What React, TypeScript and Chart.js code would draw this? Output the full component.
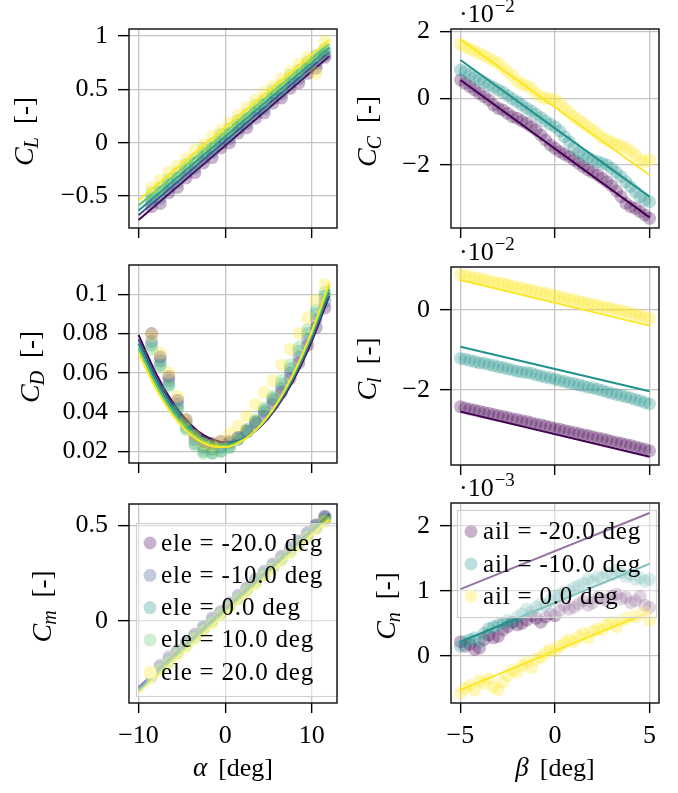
import React, { useEffect, useRef } from "react";
import { Chart, registerables } from "chart.js";
Chart.register(...registerables);

const SERIF = '"Liberation Serif", "Times New Roman", serif';
const FS = 25;
const TICK_FS = 26;

// ---------- data ----------
const VIRIDIS5 = ["#440154", "#3b528b", "#21918c", "#5ec962", "#fde725"];
const VIRIDIS3 = ["#440154", "#21918c", "#fde725"];
const ELE_LABELS = ["ele = -20.0 deg", "ele = -10.0 deg", "ele = 0.0 deg", "ele = 10.0 deg", "ele = 20.0 deg"];
const AIL_LABELS = ["ail = -20.0 deg", "ail = -10.0 deg", "ail = 0.0 deg"];

const ALPHA_TICKS = [-10, 0, 10];
const BETA_TICKS = [-5, 0, 5];
const CL_TICKS = [-0.5, 0, 0.5, 1];
const CD_TICKS = [0.02, 0.04, 0.06, 0.08, 0.1];
const CM_TICKS = [0, 0.5];
const CC_TICKS = [-2, 0, 2];
const CROLL_TICKS = [-2, 0];
const CN_TICKS = [0, 1, 2];

const ALPHA_PTS = [-8.5, -7.5, -6.5, -5.5, -4.5, -3.5, -2.5, -1.5, -0.5, 0.5, 1.5, 2.5, 3.5, 4.5, 5.5, 6.5, 7.5, 8.5, 9.5, 10.5, 11.5];
const ALPHA_LINE = [-10, 12];
const ALPHA_CURVE = [-10, -8, -6, -4, -2, 0, 2, 4, 6, 8, 10, 12];

const CL_PTS_M20 = [-0.60, -0.57, -0.47, -0.42, -0.33, -0.28, -0.19, -0.14, -0.05, 0.00, 0.09, 0.14, 0.23, 0.28, 0.37, 0.42, 0.51, 0.56, 0.65, 0.70, 0.80];
const CL_PTS_M10 = [-0.56, -0.52, -0.43, -0.37, -0.29, -0.24, -0.15, -0.09, -0.01, 0.04, 0.13, 0.18, 0.27, 0.32, 0.41, 0.46, 0.55, 0.60, 0.69, 0.74, 0.82];
const CL_PTS_0 = [-0.52, -0.46, -0.38, -0.33, -0.24, -0.19, -0.10, -0.05, 0.04, 0.09, 0.17, 0.23, 0.31, 0.36, 0.45, 0.50, 0.59, 0.64, 0.73, 0.80, 0.86];
const CL_PTS_10 = [-0.47, -0.42, -0.34, -0.28, -0.20, -0.15, -0.06, -0.01, 0.08, 0.13, 0.21, 0.27, 0.35, 0.40, 0.49, 0.54, 0.63, 0.68, 0.76, 0.82, 0.88];
const CL_PTS_20 = [-0.42, -0.35, -0.28, -0.22, -0.15, -0.07, -0.02, 0.06, 0.12, 0.19, 0.26, 0.33, 0.40, 0.47, 0.53, 0.60, 0.67, 0.74, 0.80, 0.65, 0.95];
const CL_FIT_M20 = [-0.725, 0.81];
const CL_FIT_M10 = [-0.68, 0.85];
const CL_FIT_0 = [-0.635, 0.89];
const CL_FIT_10 = [-0.59, 0.925];
const CL_FIT_20 = [-0.54, 0.965];

const CD_PTS_M20 = [0.080, 0.068, 0.058, 0.046, 0.036, 0.028, 0.025, 0.024, 0.025, 0.025, 0.027, 0.030, 0.034, 0.038, 0.044, 0.050, 0.057, 0.065, 0.074, 0.083, 0.093];
const CD_PTS_M10 = [0.076, 0.066, 0.056, 0.044, 0.034, 0.026, 0.022, 0.021, 0.022, 0.024, 0.027, 0.031, 0.035, 0.040, 0.046, 0.052, 0.060, 0.068, 0.077, 0.087, 0.096];
const CD_PTS_0 = [0.074, 0.064, 0.054, 0.042, 0.032, 0.024, 0.020, 0.019, 0.020, 0.022, 0.026, 0.030, 0.035, 0.041, 0.047, 0.054, 0.062, 0.071, 0.080, 0.090, 0.099];
const CD_PTS_10 = [0.072, 0.063, 0.053, 0.041, 0.031, 0.023, 0.019, 0.019, 0.020, 0.022, 0.026, 0.031, 0.036, 0.042, 0.048, 0.056, 0.064, 0.073, 0.082, 0.092, 0.101];
const CD_PTS_20 = [0.079, 0.070, 0.060, 0.048, 0.036, 0.028, 0.024, 0.023, 0.025, 0.029, 0.033, 0.038, 0.044, 0.050, 0.056, 0.064, 0.072, 0.080, 0.088, 0.097, 0.105];
const CD_FIT_M20 = [0.0793, 0.0598, 0.0446, 0.0337, 0.0270, 0.0245, 0.0263, 0.0324, 0.0427, 0.0573, 0.0761, 0.0992];
const CD_FIT_M10 = [0.0770, 0.0578, 0.0430, 0.0324, 0.0260, 0.0239, 0.0261, 0.0325, 0.0432, 0.0582, 0.0774, 0.1008];
const CD_FIT_0 = [0.0747, 0.0559, 0.0413, 0.0311, 0.0251, 0.0233, 0.0259, 0.0327, 0.0437, 0.0591, 0.0786, 0.1025];
const CD_FIT_10 = [0.0723, 0.0539, 0.0397, 0.0298, 0.0241, 0.0227, 0.0256, 0.0328, 0.0442, 0.0599, 0.0799, 0.1041];
const CD_FIT_20 = [0.0700, 0.0519, 0.0380, 0.0285, 0.0232, 0.0221, 0.0254, 0.0329, 0.0447, 0.0608, 0.0811, 0.1057];

const CM_PTS_M20 = [-0.28, -0.235, -0.19, -0.155, -0.11, -0.07, -0.03, 0.015, 0.05, 0.095, 0.135, 0.175, 0.22, 0.26, 0.30, 0.34, 0.385, 0.42, 0.465, 0.505, 0.55];
const CM_PTS_M10 = [-0.285, -0.24, -0.20, -0.16, -0.115, -0.075, -0.035, 0.01, 0.045, 0.09, 0.13, 0.17, 0.215, 0.255, 0.295, 0.335, 0.38, 0.415, 0.46, 0.50, 0.545];
const CM_PTS_0 = [-0.29, -0.25, -0.21, -0.165, -0.125, -0.08, -0.04, 0.0, 0.04, 0.08, 0.12, 0.165, 0.205, 0.245, 0.285, 0.325, 0.37, 0.41, 0.45, 0.49, 0.535];
const CM_PTS_10 = [-0.295, -0.255, -0.215, -0.17, -0.13, -0.09, -0.045, -0.005, 0.035, 0.075, 0.115, 0.16, 0.20, 0.24, 0.28, 0.32, 0.36, 0.40, 0.445, 0.485, 0.53];
const CM_PTS_20 = [-0.30, -0.26, -0.22, -0.18, -0.14, -0.095, -0.055, -0.015, 0.03, 0.07, 0.11, 0.15, 0.19, 0.235, 0.275, 0.315, 0.355, 0.395, 0.44, 0.48, 0.52];
const CM_FIT_M20 = [-0.35, 0.56];
const CM_FIT_M10 = [-0.358, 0.553];
const CM_FIT_0 = [-0.366, 0.546];
const CM_FIT_10 = [-0.374, 0.539];
const CM_FIT_20 = [-0.382, 0.532];

const BETA_PTS = [-5, -4.75, -4.5, -4.25, -4, -3.75, -3.5, -3.25, -3, -2.75, -2.5, -2.25, -2, -1.75, -1.5, -1.25, -1, -0.75, -0.5, -0.25, 0, 0.25, 0.5, 0.75, 1, 1.25, 1.5, 1.75, 2, 2.25, 2.5, 2.75, 3, 3.25, 3.5, 3.75, 4, 4.25, 4.5, 4.75, 5];
const BETA_LINE = [-5, 5];

// C_C in units of 1e-2
const CC_PTS_M20 = [0.55, 0.45, 0.35, 0.25, 0.15, 0.05, -0.05, -0.20, -0.30, -0.35, -0.45, -0.55, -0.60, -0.68, -0.75, -0.85, -0.95, -1.10, -1.25, -1.40, -1.50, -1.60, -1.68, -1.75, -1.85, -1.95, -2.05, -2.15, -2.22, -2.30, -2.40, -2.50, -2.62, -2.78, -2.95, -3.15, -3.25, -3.30, -3.40, -3.50, -3.60];
const CC_PTS_M10 = [0.85, 0.80, 0.70, 0.62, 0.55, 0.48, 0.40, 0.33, 0.25, 0.18, 0.08, -0.02, -0.10, -0.20, -0.30, -0.38, -0.48, -0.58, -0.68, -0.78, -0.85, -0.98, -1.15, -1.30, -1.48, -1.62, -1.70, -1.78, -1.85, -1.90, -1.95, -2.00, -2.10, -2.22, -2.35, -2.50, -2.65, -2.80, -2.95, -3.05, -3.10];
const CC_PTS_0 = [1.62, 1.55, 1.48, 1.42, 1.35, 1.28, 1.20, 1.12, 1.05, 0.92, 0.80, 0.68, 0.52, 0.42, 0.38, 0.30, 0.15, 0.05, 0.0, -0.02, -0.05, -0.15, -0.30, -0.42, -0.55, -0.65, -0.75, -0.85, -0.95, -1.05, -1.18, -1.25, -1.32, -1.38, -1.42, -1.50, -1.58, -1.70, -1.85, -1.90, -1.85];
const CC_FIT_M20 = [0.55, -3.57];
const CC_FIT_M10 = [1.15, -2.95];
const CC_FIT_0 = [1.77, -2.30];

// C_l in units of 1e-2
const CROLL_PTS_M20 = [-2.42, -2.45, -2.48, -2.50, -2.53, -2.56, -2.58, -2.61, -2.64, -2.66, -2.69, -2.72, -2.74, -2.77, -2.79, -2.82, -2.85, -2.87, -2.90, -2.93, -2.96, -2.98, -3.01, -3.04, -3.06, -3.09, -3.12, -3.14, -3.17, -3.20, -3.22, -3.25, -3.28, -3.31, -3.33, -3.36, -3.39, -3.42, -3.45, -3.48, -3.52];
const CROLL_PTS_M10 = [-1.21, -1.23, -1.26, -1.29, -1.32, -1.33, -1.36, -1.39, -1.42, -1.44, -1.47, -1.50, -1.53, -1.55, -1.56, -1.58, -1.62, -1.65, -1.68, -1.70, -1.73, -1.76, -1.79, -1.82, -1.84, -1.87, -1.90, -1.93, -1.95, -1.98, -2.01, -2.05, -2.08, -2.11, -2.14, -2.17, -2.20, -2.24, -2.27, -2.31, -2.35];
const CROLL_PTS_0 = [0.88, 0.86, 0.83, 0.80, 0.78, 0.76, 0.73, 0.70, 0.67, 0.66, 0.63, 0.60, 0.57, 0.55, 0.52, 0.49, 0.46, 0.44, 0.41, 0.38, 0.36, 0.33, 0.30, 0.27, 0.25, 0.22, 0.19, 0.16, 0.14, 0.11, 0.08, 0.06, 0.03, 0.00, -0.02, -0.05, -0.08, -0.11, -0.14, -0.17, -0.21];
const CROLL_FIT_M20 = [-2.54, -3.67];
const CROLL_FIT_M10 = [-0.92, -2.03];
const CROLL_FIT_0 = [0.75, -0.39];

// C_n in units of 1e-3
const CN_PTS_M20 = [0.22, 0.15, 0.18, 0.10, 0.12, 0.25, 0.32, 0.28, 0.30, 0.40, 0.45, 0.52, 0.48, 0.50, 0.55, 0.62, 0.58, 0.52, 0.60, 0.65, 0.62, 0.70, 0.78, 0.72, 0.75, 0.80, 0.85, 0.78, 0.82, 0.90, 0.88, 0.85, 0.92, 0.95, 0.88, 0.90, 0.82, 0.85, 0.92, 0.78, 0.75];
const CN_PTS_M10 = [0.15, 0.22, 0.25, 0.28, 0.22, 0.35, 0.42, 0.45, 0.48, 0.50, 0.55, 0.52, 0.60, 0.65, 0.72, 0.68, 0.75, 0.80, 0.78, 0.85, 0.92, 0.95, 0.98, 1.00, 1.05, 1.08, 1.12, 1.18, 1.15, 1.22, 1.20, 1.28, 1.25, 1.32, 1.28, 1.22, 1.25, 1.18, 1.20, 1.15, 1.18];
const CN_PTS_0 = [-0.57, -0.50, -0.45, -0.52, -0.38, -0.42, -0.35, -0.48, -0.52, -0.40, -0.30, -0.22, -0.25, -0.15, -0.10, -0.18, -0.05, -0.02, 0.05, 0.10, 0.08, 0.15, 0.20, 0.25, 0.22, 0.30, 0.35, 0.28, 0.38, 0.42, 0.40, 0.48, 0.52, 0.45, 0.55, 0.58, 0.62, 0.60, 0.65, 0.68, 0.55];
const CN_FIT_M20 = [1.03, 2.2];
const CN_FIT_M10 = [0.22, 1.42];
const CN_FIT_0 = [-0.52, 0.68];

// ---------- layout / style ----------
type Series = { color: string; pts: number[]; fit: number[] };
type Panel = {
  key: string;
  area: [number, number, number, number];
  xr: [number, number];
  yr: [number, number];
  xTicks: number[];
  yTicks: number[];
  showX: boolean;
  sub: string;
  yTitleX: number;
  xTitle?: string;
  exp?: string;
  ptsX: number[];
  lineX: number[];
  curve?: boolean;
  series: Series[];
  legend?: { labels: string[]; box: [number, number, number, number]; y0: number; dy: number; mx: number; tx: number };
};

const ele = (pts: number[][], fits: number[][]): Series[] =>
  VIRIDIS5.map((c, i) => ({ color: c, pts: pts[i], fit: fits[i] }));
const ail = (pts: number[][], fits: number[][]): Series[] =>
  VIRIDIS3.map((c, i) => ({ color: c, pts: pts[i], fit: fits[i] }));

const PANELS: Panel[] = [
  {
    key: "CL", area: [129, 29, 337, 228], xr: [-11.1, 12.9], yr: [-0.8, 1.066],
    xTicks: ALPHA_TICKS, yTicks: CL_TICKS, showX: false, sub: "L", yTitleX: 24,
    ptsX: ALPHA_PTS, lineX: ALPHA_LINE,
    series: ele([CL_PTS_M20, CL_PTS_M10, CL_PTS_0, CL_PTS_10, CL_PTS_20], [CL_FIT_M20, CL_FIT_M10, CL_FIT_0, CL_FIT_10, CL_FIT_20]),
  },
  {
    key: "CD", area: [129, 265, 337, 463], xr: [-11.1, 12.9], yr: [0.014, 0.1149],
    xTicks: ALPHA_TICKS, yTicks: CD_TICKS, showX: false, sub: "D", yTitleX: 30,
    ptsX: ALPHA_PTS, lineX: ALPHA_CURVE, curve: true,
    series: ele([CD_PTS_M20, CD_PTS_M10, CD_PTS_0, CD_PTS_10, CD_PTS_20], [CD_FIT_M20, CD_FIT_M10, CD_FIT_0, CD_FIT_10, CD_FIT_20]),
  },
  {
    key: "Cm", area: [129, 504, 337, 703], xr: [-11.1, 12.9], yr: [-0.433, 0.614],
    xTicks: ALPHA_TICKS, yTicks: CM_TICKS, showX: true, sub: "m", yTitleX: 42, xTitle: "\u03b1",
    ptsX: ALPHA_PTS, lineX: ALPHA_LINE,
    series: ele([CM_PTS_M20, CM_PTS_M10, CM_PTS_0, CM_PTS_10, CM_PTS_20], [CM_FIT_M20, CM_FIT_M10, CM_FIT_0, CM_FIT_10, CM_FIT_20]),
    legend: { labels: ELE_LABELS, box: [136, 523, 338, 697], y0: 543, dy: 32.3, mx: 150, tx: 161 },
  },
  {
    key: "CC", area: [451, 29, 659, 228], xr: [-5.5, 5.5], yr: [-3.89, 2.08],
    xTicks: BETA_TICKS, yTicks: CC_TICKS, showX: false, sub: "C", yTitleX: 367, exp: "\u22122",
    ptsX: BETA_PTS, lineX: BETA_LINE,
    series: ail([CC_PTS_M20, CC_PTS_M10, CC_PTS_0], [CC_FIT_M20, CC_FIT_M10, CC_FIT_0]),
  },
  {
    key: "Cl", area: [451, 267, 659, 465], xr: [-5.5, 5.5], yr: [-3.875, 1.075],
    xTicks: BETA_TICKS, yTicks: CROLL_TICKS, showX: false, sub: "l", yTitleX: 367, exp: "\u22122",
    ptsX: BETA_PTS, lineX: BETA_LINE,
    series: ail([CROLL_PTS_M20, CROLL_PTS_M10, CROLL_PTS_0], [CROLL_FIT_M20, CROLL_FIT_M10, CROLL_FIT_0]),
  },
  {
    key: "Cn", area: [451, 503, 659, 703], xr: [-5.5, 5.5], yr: [-0.723, 2.354],
    xTicks: BETA_TICKS, yTicks: CN_TICKS, showX: true, sub: "n", yTitleX: 386, exp: "\u22123", xTitle: "\u03b2",
    ptsX: BETA_PTS, lineX: BETA_LINE,
    series: ail([CN_PTS_M20, CN_PTS_M10, CN_PTS_0], [CN_FIT_M20, CN_FIT_M10, CN_FIT_0]),
    legend: { labels: AIL_LABELS, box: [457, 510, 657, 618], y0: 531.5, dy: 32.5, mx: 471, tx: 483 },
  },
];

const W = 678;
const H = 793;
const GRID = "#c4c4c4";
const YAXIS_W = 90;
const XAXIS_H = 50;

function rgba(hex: string, a: number) {
  const n = parseInt(hex.slice(1), 16);
  return `rgba(${(n >> 16) & 255},${(n >> 8) & 255},${n & 255},${a})`;
}
function fmt(v: number) {
  const r = Math.round(v * 1000) / 1000;
  return (r < 0 ? "\u2212" : "") + Math.abs(r).toString();
}

function drawYTitle(ctx: CanvasRenderingContext2D, cx: number, cy: number, sub: string) {
  ctx.save();
  ctx.translate(cx, cy);
  ctx.rotate(-Math.PI / 2);
  ctx.fillStyle = "#000";
  ctx.textAlign = "left";
  ctx.textBaseline = "alphabetic";
  const fMain = `italic 28px ${SERIF}`;
  const fSub = `italic 20px ${SERIF}`;
  const fRom = `27px ${SERIF}`;
  ctx.font = fMain;
  const wC = ctx.measureText("C").width;
  ctx.font = fSub;
  const wS = ctx.measureText(sub).width;
  ctx.font = fRom;
  const wR = ctx.measureText("[-]").width;
  const gap = 12;
  const total = wC + wS + gap + wR;
  let x = -total / 2;
  const base = 9;
  ctx.font = fMain;
  ctx.fillText("C", x, base);
  x += wC;
  ctx.font = fSub;
  ctx.fillText(sub, x - 1, base + 5);
  x += wS + gap;
  ctx.font = fRom;
  ctx.fillText("[-]", x, base);
  ctx.restore();
}

function drawXTitle(ctx: CanvasRenderingContext2D, cx: number, by: number, g: string) {
  ctx.save();
  ctx.fillStyle = "#000";
  ctx.textAlign = "left";
  ctx.textBaseline = "alphabetic";
  const fG = `italic 27px ${SERIF}`;
  const fR = `26px ${SERIF}`;
  ctx.font = fG;
  const wG = ctx.measureText(g).width;
  ctx.font = fR;
  const wR = ctx.measureText("[deg]").width;
  const gap = 11;
  let x = cx - (wG + gap + wR) / 2;
  ctx.font = fG;
  ctx.fillText(g, x, by);
  x += wG + gap;
  ctx.font = fR;
  ctx.fillText("[deg]", x, by);
  ctx.restore();
}

function drawExp(ctx: CanvasRenderingContext2D, x: number, by: number, e: string) {
  ctx.save();
  ctx.fillStyle = "#000";
  ctx.textAlign = "left";
  ctx.textBaseline = "alphabetic";
  ctx.font = `${TICK_FS}px ${SERIF}`;
  const t = "\u00b710";
  ctx.fillText(t, x, by);
  const w = ctx.measureText(t).width;
  ctx.font = `19px ${SERIF}`;
  ctx.fillText(e, x + w + 1, by - 10);
  ctx.restore();
}

function drawLegend(ctx: CanvasRenderingContext2D, p: Panel) {
  const L = p.legend!;
  ctx.save();
  const [l, t, r, b] = L.box;
  ctx.fillStyle = "rgba(255,255,255,0.45)";
  ctx.fillRect(l, t, r - l, b - t);
  ctx.strokeStyle = "#d0d0d0";
  ctx.lineWidth = 1.2;
  ctx.strokeRect(l + 0.5, t + 0.5, r - l - 1, b - t - 1);
  L.labels.forEach((lab, i) => {
    const y = L.y0 + i * L.dy;
    ctx.fillStyle = "#fff";
    ctx.beginPath();
    ctx.arc(L.mx, y, 6.5, 0, Math.PI * 2);
    ctx.fill();
    ctx.fillStyle = rgba(p.series[i].color, 0.3);
    ctx.beginPath();
    ctx.arc(L.mx, y, 6.5, 0, Math.PI * 2);
    ctx.fill();
    ctx.fillStyle = "#000";
    ctx.font = `${FS}px ${SERIF}`;
    ctx.textAlign = "left";
    ctx.textBaseline = "middle";
    (ctx as any).letterSpacing = "0.8px";
    ctx.fillText(lab, L.tx, y + 1);
    (ctx as any).letterSpacing = "0px";
  });
  ctx.restore();
}

function buildChart(canvas: HTMLCanvasElement, p: Panel) {
  const n = p.series.length;
  const datasets: any[] = [];
  p.series.forEach((s, i) => {
    datasets.push({
      type: "scatter",
      data: p.ptsX.map((x, j) => ({ x, y: s.pts[j] })),
      backgroundColor: rgba(s.color, 0.3),
      borderWidth: 0,
      pointRadius: 6.5,
      pointHoverRadius: 6.5,
      order: 2 * (n - i) + 1,
    });
    datasets.push({
      type: "line",
      data: p.lineX.map((x, j) => ({ x, y: s.fit[j] })),
      borderColor: s.color,
      borderWidth: 2,
      pointRadius: 0,
      fill: false,
      showLine: true,
      cubicInterpolationMode: p.curve ? "monotone" : "default",
      order: 2 * (n - i),
    });
  });
  const [al, at, ar, ab] = p.area;
  const fitZero = (s: any) => {
    s.paddingLeft = 0;
    s.paddingRight = 0;
    s.paddingTop = 0;
    s.paddingBottom = 0;
  };
  const decor = {
    id: "decor" + p.key,
    afterDatasetsDraw(chart: any) {
      if (p.legend) drawLegend(chart.ctx, p);
    },
    afterDraw(chart: any) {
      const ctx = chart.ctx as CanvasRenderingContext2D;
      const a = chart.chartArea;
      ctx.save();
      ctx.strokeStyle = "#1a1a1a";
      ctx.lineWidth = 1.5;
      ctx.strokeRect(a.left, a.top, a.right - a.left, a.bottom - a.top);
      ctx.restore();
      drawYTitle(ctx, p.yTitleX, (a.top + a.bottom) / 2 + 3, p.sub);
      if (p.xTitle) drawXTitle(ctx, (a.left + a.right) / 2, 776, p.xTitle);
      if (p.exp) drawExp(ctx, a.left + 8, a.top - 7, p.exp);
    },
  };
  return new Chart(canvas, {
    type: "scatter",
    data: { datasets },
    options: {
      responsive: false,
      animation: false,
      devicePixelRatio: 1,
      events: [],
      layout: { padding: { left: al - YAXIS_W, top: at, right: W - ar, bottom: H - ab - XAXIS_H } },
      plugins: { legend: { display: false }, tooltip: { enabled: false }, title: { display: false } },
      scales: {
        x: {
          type: "linear",
          min: p.xr[0],
          max: p.xr[1],
          afterBuildTicks: (s: any) => {
            s.ticks = p.xTicks.map((v) => ({ value: v }));
          },
          afterFit: (s: any) => {
            s.height = XAXIS_H;
            fitZero(s);
          },
          border: { display: false },
          grid: { color: GRID, lineWidth: 1.3, drawTicks: true, tickLength: 10, tickColor: "#000", tickWidth: 1.4 },
          ticks: {
            display: p.showX,
            autoSkip: false,
            maxRotation: 0,
            padding: 8,
            color: "#000",
            font: { family: SERIF, size: TICK_FS },
            callback: (v: any) => fmt(Number(v)),
          },
        },
        y: {
          type: "linear",
          min: p.yr[0],
          max: p.yr[1],
          afterBuildTicks: (s: any) => {
            s.ticks = p.yTicks.map((v) => ({ value: v }));
          },
          afterFit: (s: any) => {
            s.width = YAXIS_W;
            fitZero(s);
          },
          border: { display: false },
          grid: { color: GRID, lineWidth: 1.3, drawTicks: true, tickLength: 11, tickColor: "#000", tickWidth: 1.4 },
          ticks: {
            autoSkip: false,
            padding: 10,
            color: "#000",
            font: { family: SERIF, size: TICK_FS },
            callback: (v: any) => fmt(Number(v)),
          },
        },
      },
    },
    plugins: [decor],
  } as any);
}

export default function App() {
  const refs = useRef<(HTMLCanvasElement | null)[]>([]);
  useEffect(() => {
    const charts = PANELS.map((p, i) => buildChart(refs.current[i]!, p));
    return () => charts.forEach((c) => c.destroy());
  }, []);
  return (
    <div style={{ position: "absolute", left: 0, top: 0, width: W, height: H, background: "#fff" }}>
      {PANELS.map((p, i) => (
        <canvas
          key={p.key}
          ref={(el) => {
            refs.current[i] = el;
          }}
          width={W}
          height={H}
          style={{ position: "absolute", left: 0, top: 0, width: W, height: H }}
        />
      ))}
    </div>
  );
}
